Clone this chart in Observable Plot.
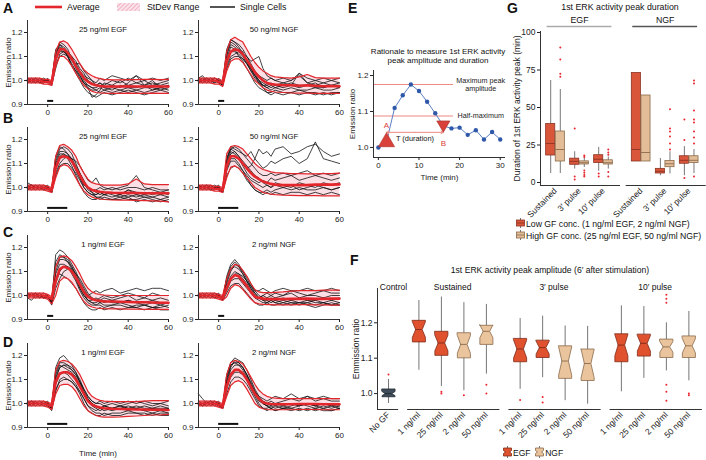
<!DOCTYPE html>
<html><head><meta charset="utf-8">
<script src="https://cdn.jsdelivr.net/npm/d3@7"></script>
<script src="https://cdn.jsdelivr.net/npm/@observablehq/plot@0.6"></script>
<style>
body{margin:0;background:#fff;}
#fig{position:relative;width:706px;height:460px;overflow:hidden;font-family:"Liberation Sans",Arial,sans-serif;color:#111;background:#fff;}
.abs{position:absolute;}
.lbl{position:absolute;font-weight:bold;font-size:14px;line-height:1;}
.t{position:absolute;white-space:nowrap;line-height:1;}
</style></head><body><div id="fig"></div>
<script>
// ---------------- DATA: time courses (A-D) ----------------
const T = [-10,-8,-6,-4,-2,0,2,4,6,8,10,12,14,16,18,20,22,24,26,28,32,36,40,44,48,52,56,60];
const TITLES = ["25 ng/ml EGF","50 ng/ml NGF","25 ng/ml EGF","50 ng/ml NGF","1 ng/ml EGF","2 ng/ml NGF","1 ng/ml EGF","2 ng/ml NGF"];
const PULSE = [3,3,10,10,3,3,10,10];

const A_EGF_avg=[1.00,1.00,1.00,1.00,0.995,0.995,0.99,1.09,1.13,1.13,1.115,1.09,1.06,1.035,1.01,0.995,0.985,0.98,0.977,0.975,0.975,0.975,0.976,0.975,0.975,0.976,0.975,0.975];
const A_EGF_hi=[1.01,1.01,1.01,1.01,1.005,1.005,1.00,1.12,1.16,1.165,1.155,1.13,1.10,1.07,1.045,1.03,1.02,1.012,1.008,1.005,1.003,1.003,1.004,1.004,1.005,1.005,1.004,1.005];
const A_EGF_lo=[0.99,0.99,0.99,0.99,0.985,0.985,0.98,1.06,1.10,1.10,1.085,1.06,1.03,1.005,0.98,0.965,0.955,0.95,0.948,0.947,0.946,0.946,0.947,0.946,0.946,0.947,0.946,0.946];
const A_EGF_cells=[
[1.00,1.01,1.00,0.99,1.00,1.00,0.99,1.10,1.15,1.14,1.12,1.10,1.06,1.03,1.00,0.98,0.97,0.96,0.95,0.96,0.95,0.96,0.95,0.96,0.95,0.96,0.97,0.96],
[0.99,1.00,1.01,1.00,0.99,1.00,0.98,1.05,1.11,1.12,1.11,1.10,1.08,1.05,1.03,1.00,0.99,0.98,0.99,0.98,1.00,0.99,1.01,0.99,1.00,0.98,0.99,1.00],
[1.01,1.00,0.99,1.01,1.00,0.99,0.99,1.12,1.14,1.13,1.10,1.06,1.03,1.00,0.97,0.95,0.94,0.93,0.94,0.95,0.94,0.95,0.96,0.95,0.94,0.95,0.96,0.95],
[1.00,0.99,1.00,1.00,1.01,1.00,0.99,1.07,1.10,1.11,1.10,1.09,1.07,1.07,1.04,1.02,1.00,0.98,0.99,0.97,0.98,1.00,0.98,0.99,0.98,1.00,0.97,0.98],
[1.00,1.00,1.01,0.99,1.00,1.00,0.99,1.13,1.15,1.13,1.10,1.06,1.04,1.01,0.99,0.98,0.97,0.97,0.98,0.97,0.96,0.98,0.97,0.97,0.98,0.96,0.97,0.98],
[0.99,1.00,1.00,1.00,0.99,1.01,0.98,1.09,1.12,1.12,1.11,1.08,1.07,1.04,1.02,1.01,1.00,0.99,1.01,1.00,1.02,1.01,1.00,1.02,1.00,1.01,1.00,1.01],
[1.00,1.00,0.99,1.00,1.00,1.00,0.99,1.11,1.16,1.15,1.13,1.09,1.05,1.02,0.99,0.97,0.96,0.96,0.97,0.96,0.97,0.96,0.97,0.96,0.97,0.97,0.96,0.97],
[1.01,1.00,1.00,1.00,0.99,1.00,0.99,1.08,1.13,1.12,1.10,1.07,1.04,1.02,0.99,0.97,0.93,0.94,0.96,0.99,0.98,0.97,0.99,1.02,0.98,0.99,0.98,0.99]];

const A_NGF_avg=[1.00,1.00,1.00,1.00,1.00,0.995,0.99,1.08,1.12,1.13,1.125,1.11,1.085,1.06,1.035,1.015,1.00,0.99,0.985,0.983,0.98,0.98,0.978,0.98,0.978,0.976,0.977,0.976];
const A_NGF_hi=[1.01,1.01,1.01,1.01,1.01,1.005,1.00,1.12,1.17,1.18,1.17,1.16,1.13,1.10,1.075,1.055,1.04,1.03,1.02,1.015,1.012,1.01,1.015,1.025,1.012,1.01,1.01,1.01];
const A_NGF_lo=[0.99,0.99,0.99,0.99,0.985,0.985,0.975,1.04,1.08,1.09,1.09,1.075,1.05,1.025,1.00,0.985,0.97,0.96,0.955,0.952,0.95,0.948,0.947,0.947,0.946,0.946,0.946,0.946];
const A_NGF_cells=[
[1.00,1.01,1.00,1.00,0.99,1.00,0.98,1.12,1.16,1.15,1.13,1.12,1.08,1.05,1.03,1.00,0.99,0.98,0.97,0.98,0.97,0.98,0.97,0.98,0.97,0.97,0.98,0.97],
[1.01,1.02,1.00,0.99,1.00,1.00,0.99,1.06,1.10,1.11,1.12,1.11,1.10,1.08,1.09,1.10,1.05,1.02,1.01,1.00,0.99,1.00,1.02,0.99,1.00,0.99,1.00,0.99],
[0.99,1.00,1.00,1.01,1.00,0.99,0.98,1.09,1.14,1.13,1.10,1.08,1.05,1.02,0.99,0.97,0.96,0.95,0.95,0.96,0.95,0.95,0.96,0.95,0.95,0.94,0.95,0.95],
[1.00,1.00,1.01,1.00,1.00,1.00,0.99,1.10,1.17,1.16,1.15,1.13,1.10,1.07,1.04,1.02,1.01,1.00,1.01,1.00,1.01,1.00,1.03,1.01,1.00,1.01,1.00,1.01],
[1.00,0.99,1.00,1.00,1.01,1.00,0.98,1.05,1.09,1.10,1.10,1.09,1.07,1.04,1.01,0.99,0.98,0.97,0.96,0.97,0.96,0.97,0.96,0.96,0.97,0.96,0.96,0.97],
[1.01,1.00,0.99,1.00,0.99,1.01,0.99,1.11,1.15,1.14,1.12,1.10,1.07,1.04,1.02,1.00,0.98,0.97,0.98,0.97,0.98,0.99,0.98,0.98,0.99,0.97,0.98,0.98],
[1.00,1.00,1.01,1.00,1.00,0.99,0.99,1.13,1.17,1.16,1.14,1.11,1.08,1.05,1.02,0.99,0.98,0.98,0.99,0.98,0.99,0.98,1.03,0.99,0.98,0.99,0.98,0.99],
[0.99,1.00,1.00,1.00,1.01,1.00,0.98,1.07,1.12,1.12,1.11,1.09,1.07,1.05,1.02,1.00,0.97,0.95,0.94,0.95,0.94,0.95,0.94,0.95,0.94,0.95,0.94,0.95]];

const B_EGF_avg=[1.00,1.00,1.00,1.00,1.00,0.995,0.99,1.08,1.125,1.13,1.125,1.11,1.08,1.05,1.02,1.00,0.99,0.985,0.982,0.98,0.978,0.977,0.978,0.977,0.976,0.976,0.976,0.976];
const B_EGF_hi=[1.01,1.01,1.01,1.01,1.01,1.005,1.00,1.13,1.175,1.18,1.17,1.155,1.13,1.09,1.06,1.035,1.02,1.015,1.012,1.01,1.01,1.01,1.015,1.035,1.015,1.012,1.012,1.012];
const B_EGF_lo=[0.99,0.99,0.99,0.99,0.99,0.985,0.98,1.04,1.085,1.095,1.09,1.07,1.04,1.01,0.985,0.97,0.96,0.955,0.952,0.95,0.948,0.947,0.947,0.946,0.945,0.944,0.943,0.94];
const B_EGF_cells=[
[1.00,1.01,1.00,1.00,0.99,1.00,0.99,1.12,1.16,1.17,1.16,1.14,1.10,1.06,1.03,1.00,0.99,0.98,0.97,0.98,0.97,0.96,0.97,0.96,0.97,0.96,0.97,0.96],
[1.01,1.00,1.00,0.99,1.00,1.00,0.98,1.06,1.10,1.12,1.13,1.12,1.11,1.09,1.06,1.03,1.02,1.04,1.01,1.00,0.99,1.00,1.01,1.05,1.00,0.99,0.98,0.99],
[0.99,1.00,1.01,1.00,1.00,0.99,0.99,1.10,1.14,1.14,1.12,1.09,1.05,1.01,0.98,0.96,0.95,0.95,0.96,0.95,0.95,0.96,0.95,0.95,0.96,0.95,0.94,0.95],
[1.00,1.00,0.99,1.00,1.01,1.00,0.98,1.08,1.12,1.13,1.13,1.12,1.09,1.06,1.02,0.99,0.98,0.97,0.98,0.97,0.98,0.97,0.99,0.98,0.97,0.98,0.97,0.98],
[1.02,1.01,1.00,1.00,0.99,1.00,0.99,1.13,1.17,1.16,1.14,1.11,1.07,1.04,1.01,1.00,0.99,0.99,1.00,0.99,1.00,0.99,1.00,1.00,0.99,1.00,0.99,0.99],
[1.00,0.99,1.00,1.00,1.00,1.01,0.98,1.05,1.09,1.10,1.10,1.08,1.06,1.03,1.00,0.98,0.97,0.96,0.96,0.97,0.96,0.97,0.96,0.97,0.96,0.96,0.95,0.96],
[1.00,1.01,1.00,1.00,1.00,1.00,0.99,1.11,1.15,1.15,1.14,1.12,1.08,1.04,1.00,0.98,0.97,0.97,0.98,0.97,0.98,0.97,0.99,0.97,0.98,0.97,0.98,0.97],
[0.99,1.00,1.00,1.01,1.00,1.00,0.98,1.09,1.13,1.14,1.13,1.11,1.08,1.05,1.02,1.00,0.98,0.96,0.95,0.96,0.95,0.95,0.96,0.94,0.95,0.94,0.95,0.94]];

const B_NGF_avg=[1.00,1.00,1.00,1.00,0.995,0.995,0.99,1.09,1.13,1.13,1.12,1.10,1.08,1.06,1.045,1.035,1.025,1.02,1.015,1.012,1.01,1.01,1.01,1.01,1.012,1.012,1.012,1.013];
const B_NGF_hi=[1.01,1.01,1.01,1.01,1.005,1.005,1.00,1.14,1.17,1.175,1.17,1.16,1.14,1.12,1.10,1.085,1.075,1.07,1.065,1.062,1.06,1.058,1.058,1.057,1.057,1.058,1.058,1.06];
const B_NGF_lo=[0.99,0.99,0.99,0.99,0.985,0.985,0.98,1.04,1.085,1.09,1.08,1.06,1.04,1.02,1.00,0.99,0.98,0.975,0.972,0.97,0.968,0.967,0.966,0.966,0.966,0.965,0.965,0.965];
const B_NGF_cells=[
[1.00,1.01,1.00,0.99,1.00,1.00,0.98,1.12,1.17,1.16,1.15,1.14,1.13,1.15,1.12,1.16,1.14,1.15,1.13,1.16,1.17,1.14,1.15,1.17,1.18,1.15,1.13,1.14],
[1.01,1.00,1.00,1.01,0.99,1.00,0.99,1.09,1.14,1.15,1.13,1.10,1.08,1.09,1.12,1.10,1.08,1.09,1.11,1.10,1.12,1.13,1.10,1.12,1.19,1.12,1.11,1.10],
[0.99,1.00,1.01,1.00,1.00,0.99,0.98,1.07,1.11,1.11,1.09,1.07,1.05,1.03,1.02,1.01,1.00,1.01,1.00,1.02,1.01,1.00,1.02,1.01,1.00,1.02,1.01,1.02],
[1.00,1.00,0.99,1.00,1.01,1.00,0.99,1.10,1.15,1.14,1.12,1.09,1.06,1.04,1.03,1.02,1.03,1.02,1.04,1.03,1.04,1.05,1.03,1.04,1.05,1.04,1.03,1.04],
[1.01,1.00,1.00,0.99,1.00,1.01,0.98,1.05,1.08,1.09,1.08,1.06,1.03,1.01,0.99,0.98,0.97,0.98,0.97,0.98,0.97,0.98,0.98,0.97,0.98,0.97,0.98,0.97],
[1.00,0.99,1.00,1.00,1.00,1.00,0.99,1.11,1.16,1.15,1.13,1.11,1.09,1.07,1.05,1.04,1.02,1.01,1.00,1.01,1.00,1.01,0.99,1.00,1.01,1.00,0.99,1.00],
[1.00,1.00,1.01,1.00,0.99,1.00,0.98,1.12,1.16,1.17,1.16,1.14,1.12,1.10,1.08,1.06,1.05,1.05,1.06,1.05,1.06,1.05,1.06,1.07,1.05,1.06,1.05,1.06],
[1.01,1.00,1.00,1.00,1.00,0.99,0.99,1.08,1.12,1.12,1.10,1.07,1.04,1.01,0.99,0.98,0.98,0.99,0.98,0.99,1.00,0.99,1.00,0.99,0.99,1.00,0.99,1.00]];

const C_EGF_avg=[1.00,1.00,1.00,1.00,1.00,0.995,0.985,1.06,1.11,1.12,1.115,1.10,1.075,1.045,1.015,0.995,0.985,0.98,0.978,0.975,0.975,0.974,0.973,0.972,0.972,0.971,0.97,0.97];
const C_EGF_hi=[1.01,1.01,1.01,1.01,1.01,1.005,0.995,1.12,1.16,1.165,1.16,1.145,1.12,1.09,1.055,1.03,1.015,1.008,1.004,1.002,1.00,1.00,1.00,1.00,1.00,1.00,1.00,1.00];
const C_EGF_lo=[0.99,0.99,0.99,0.99,0.99,0.985,0.965,1.00,1.06,1.075,1.07,1.055,1.03,1.00,0.975,0.96,0.952,0.948,0.946,0.945,0.944,0.944,0.943,0.943,0.942,0.942,0.942,0.942];
const C_EGF_cells=[
[1.00,1.01,1.00,1.00,0.99,1.00,0.97,1.17,1.19,1.18,1.16,1.13,1.10,1.06,1.03,1.00,0.99,0.98,0.99,1.00,0.99,1.00,1.01,1.00,0.99,1.01,1.00,1.00],
[0.99,1.00,1.01,0.99,1.00,0.99,0.98,1.05,1.10,1.12,1.12,1.11,1.09,1.07,1.04,1.01,0.99,0.98,0.97,0.98,0.97,0.97,0.98,0.97,0.96,0.97,0.96,0.97],
[1.01,1.00,1.00,1.01,0.99,1.00,0.97,1.07,1.09,1.08,1.07,1.05,1.03,1.00,0.97,0.95,0.94,0.94,0.95,0.94,0.95,0.94,0.95,0.95,0.94,0.95,0.94,0.94],
[1.00,1.00,0.99,1.00,1.01,1.00,0.98,1.14,1.17,1.16,1.14,1.12,1.09,1.05,1.02,1.00,1.01,1.02,1.01,1.02,1.03,1.01,1.02,1.03,1.02,1.03,1.03,1.02],
[0.99,0.98,1.00,1.00,0.99,1.00,0.96,1.03,1.07,1.10,1.11,1.10,1.07,1.03,1.00,0.98,0.97,0.96,0.96,0.95,0.96,0.96,0.95,0.96,0.96,0.95,0.96,0.95],
[1.00,1.00,1.01,1.00,1.00,0.99,0.98,1.10,1.15,1.15,1.14,1.11,1.07,1.03,1.00,0.98,0.98,0.99,0.98,0.99,0.98,0.99,1.00,0.98,0.99,0.98,0.99,0.98],
[1.00,1.00,1.00,0.99,1.00,1.00,0.97,1.12,1.16,1.16,1.15,1.12,1.08,1.04,1.01,0.98,0.97,0.97,0.98,0.97,0.98,0.97,0.98,0.97,0.97,0.98,0.97,0.97],
[1.01,1.00,1.00,1.00,0.99,1.00,0.98,1.09,1.13,1.13,1.12,1.09,1.06,1.02,0.99,0.97,0.96,0.96,0.97,0.96,0.96,0.97,0.96,0.95,0.96,0.95,0.95,0.96]];

const C_NGF_avg=[1.00,1.00,1.00,1.00,1.00,0.995,0.99,1.03,1.07,1.085,1.08,1.06,1.04,1.015,0.995,0.99,0.987,0.985,0.985,0.985,0.985,0.986,0.986,0.987,0.986,0.986,0.987,0.987];
const C_NGF_hi=[1.01,1.01,1.01,1.01,1.01,1.005,1.00,1.07,1.11,1.13,1.125,1.105,1.08,1.05,1.025,1.015,1.012,1.012,1.012,1.013,1.015,1.018,1.02,1.02,1.02,1.022,1.022,1.022];
const C_NGF_lo=[0.99,0.99,0.99,0.99,0.99,0.985,0.98,0.995,1.03,1.045,1.04,1.025,1.005,0.985,0.97,0.965,0.963,0.962,0.962,0.961,0.961,0.961,0.962,0.962,0.961,0.961,0.96,0.96];
const C_NGF_cells=[
[1.00,1.01,1.00,1.00,0.99,1.00,0.98,1.08,1.13,1.15,1.13,1.10,1.07,1.04,1.01,0.99,0.98,0.97,0.98,0.97,0.96,0.97,0.96,0.97,0.96,0.97,0.96,0.96],
[1.00,1.00,1.01,1.00,1.00,0.99,0.99,1.04,1.08,1.10,1.09,1.08,1.06,1.04,1.02,1.02,1.03,1.02,1.01,1.02,1.03,1.02,1.02,1.03,1.02,1.02,1.03,1.02],
[0.99,1.00,1.00,0.99,1.00,1.00,0.98,1.01,1.04,1.05,1.05,1.03,1.01,0.99,0.97,0.96,0.96,0.97,0.96,0.96,0.97,0.96,0.97,0.96,0.95,0.96,0.97,0.96],
[1.01,1.00,1.00,1.00,1.01,1.00,0.99,1.06,1.11,1.12,1.11,1.09,1.06,1.03,1.00,0.99,1.00,0.99,1.00,0.99,1.00,1.01,0.99,1.00,1.00,0.99,1.00,1.00],
[1.00,0.99,1.00,1.00,1.00,1.01,0.98,1.03,1.07,1.09,1.09,1.07,1.05,1.02,0.99,0.98,0.97,0.97,0.98,0.97,0.98,0.97,0.97,0.98,0.97,0.97,0.98,0.97],
[1.00,1.00,0.99,1.01,1.00,1.00,0.99,1.05,1.10,1.13,1.12,1.10,1.08,1.05,1.02,1.00,0.99,0.98,0.99,0.98,0.99,0.98,0.99,0.98,0.98,0.99,0.98,0.99],
[1.00,1.00,1.00,1.00,1.00,1.00,0.99,1.07,1.12,1.14,1.12,1.09,1.06,1.03,1.01,0.99,0.98,0.98,0.97,0.98,0.97,0.98,0.97,0.97,0.98,0.97,0.96,0.97],
[0.99,1.00,1.00,1.00,0.99,1.00,0.99,1.02,1.06,1.07,1.07,1.05,1.03,1.01,0.99,0.99,1.00,1.01,1.00,1.01,1.00,1.02,1.01,1.00,1.01,1.02,1.01,1.01]];

const D_EGF_avg=[1.00,1.00,1.00,1.00,1.00,0.995,0.99,1.09,1.125,1.13,1.13,1.12,1.10,1.07,1.04,1.01,0.995,0.988,0.983,0.98,0.978,0.977,0.976,0.975,0.975,0.974,0.974,0.973];
const D_EGF_hi=[1.01,1.01,1.01,1.01,1.01,1.005,1.00,1.14,1.175,1.18,1.175,1.165,1.145,1.12,1.085,1.05,1.03,1.02,1.013,1.01,1.008,1.008,1.008,1.008,1.01,1.012,1.012,1.012];
const D_EGF_lo=[0.99,0.99,0.99,0.99,0.99,0.985,0.975,1.04,1.075,1.08,1.08,1.07,1.05,1.02,0.99,0.97,0.958,0.95,0.945,0.943,0.943,0.944,0.946,0.948,0.95,0.952,0.953,0.955];
const D_EGF_cells=[
[1.00,1.01,1.00,1.00,0.99,1.00,0.98,1.15,1.19,1.20,1.18,1.16,1.13,1.09,1.05,1.02,1.00,0.99,0.98,0.99,0.98,0.99,0.98,0.99,0.98,0.98,0.99,0.98],
[1.00,1.00,1.01,0.99,1.00,1.00,0.98,1.10,1.15,1.16,1.16,1.15,1.13,1.10,1.06,1.03,1.01,1.00,1.00,0.99,1.00,0.99,1.00,1.01,1.00,0.99,1.00,0.99],
[0.99,1.00,1.00,1.01,1.00,0.99,0.97,1.05,1.10,1.11,1.10,1.09,1.07,1.04,1.00,0.97,0.96,0.95,0.95,0.96,0.95,0.95,0.96,0.96,0.95,0.96,0.95,0.95],
[1.01,1.00,1.00,1.00,1.01,1.00,0.99,1.12,1.16,1.15,1.14,1.13,1.11,1.08,1.04,1.01,0.99,0.98,0.97,0.98,0.97,0.98,0.97,0.98,0.97,0.96,0.97,0.96],
[1.00,0.99,1.00,1.00,1.00,1.01,0.98,1.08,1.12,1.13,1.12,1.10,1.08,1.05,1.02,0.99,0.98,0.97,0.98,0.97,0.98,0.98,0.99,0.98,0.97,0.98,0.97,0.98],
[1.00,1.00,0.99,1.00,1.00,1.00,0.99,1.13,1.17,1.17,1.16,1.14,1.12,1.09,1.06,1.03,1.01,1.00,1.01,1.00,1.01,1.00,1.01,1.00,1.01,1.00,1.00,1.01],
[1.00,1.01,1.00,1.00,1.00,0.99,0.98,1.11,1.15,1.16,1.15,1.14,1.12,1.09,1.05,1.02,1.00,0.99,0.98,0.99,0.98,0.99,0.98,0.98,0.99,0.98,0.98,0.98],
[0.99,1.00,1.00,1.00,1.00,1.00,0.98,1.06,1.09,1.10,1.10,1.09,1.07,1.05,1.02,0.99,0.97,0.96,0.96,0.95,0.96,0.96,0.97,0.96,0.96,0.95,0.96,0.96]];

const D_NGF_avg=[1.00,1.00,1.00,1.00,1.00,0.995,0.99,1.07,1.12,1.14,1.14,1.125,1.10,1.07,1.04,1.02,1.005,1.00,0.998,0.997,0.997,0.997,0.998,0.998,0.998,0.997,0.997,0.997];
const D_NGF_hi=[1.01,1.01,1.01,1.01,1.01,1.005,1.00,1.12,1.17,1.18,1.175,1.165,1.14,1.11,1.08,1.055,1.04,1.03,1.025,1.022,1.02,1.02,1.02,1.02,1.02,1.02,1.02,1.02];
const D_NGF_lo=[0.99,0.99,0.99,0.99,0.99,0.985,0.98,1.03,1.075,1.09,1.095,1.085,1.06,1.03,1.00,0.985,0.978,0.975,0.974,0.974,0.974,0.974,0.975,0.975,0.975,0.974,0.974,0.974];
const D_NGF_cells=[
[1.04,1.02,1.00,1.00,0.99,1.00,0.98,1.12,1.17,1.19,1.18,1.17,1.14,1.10,1.06,1.03,1.02,1.01,1.02,1.03,1.02,1.04,1.02,1.03,1.02,1.03,1.02,1.02],
[1.00,1.00,1.01,0.99,1.00,1.00,0.99,1.08,1.14,1.16,1.16,1.15,1.12,1.08,1.05,1.02,1.00,0.99,1.00,0.99,1.00,1.00,0.99,1.00,0.99,1.00,0.99,1.00],
[0.99,1.00,1.00,1.01,1.00,0.99,0.98,1.04,1.09,1.11,1.11,1.10,1.08,1.05,1.02,0.99,0.98,0.97,0.98,0.97,0.98,0.98,0.97,0.98,0.97,0.98,0.97,0.98],
[1.01,1.00,1.00,1.00,1.01,1.00,0.99,1.10,1.16,1.17,1.16,1.14,1.11,1.07,1.04,1.01,1.00,0.99,0.98,0.99,0.98,0.99,1.00,0.99,0.98,0.99,0.98,0.99],
[1.00,0.99,1.00,1.00,1.00,1.01,0.98,1.06,1.12,1.14,1.14,1.13,1.10,1.07,1.04,1.02,1.01,1.00,1.01,1.00,1.01,1.02,1.01,1.03,1.01,1.02,1.01,1.01],
[1.00,1.00,0.99,1.00,1.00,1.00,0.99,1.09,1.15,1.18,1.17,1.15,1.12,1.08,1.05,1.02,1.00,0.99,0.98,0.97,0.98,0.97,0.98,0.97,0.98,0.97,0.97,0.98],
[1.00,1.00,1.00,1.00,1.00,0.99,0.99,1.11,1.16,1.17,1.17,1.15,1.12,1.09,1.05,1.03,1.01,1.00,0.99,1.00,0.99,1.00,0.99,1.00,0.99,1.00,0.99,0.99],
[1.00,0.99,1.00,1.01,1.00,1.00,0.98,1.07,1.11,1.13,1.13,1.12,1.10,1.06,1.03,1.00,0.98,0.98,0.99,0.98,0.99,0.98,0.99,1.00,0.99,0.98,0.99,0.98]];

// ---------------- DATA: panel E ----------------
const E_T = [0,2,4,6,8,10,12,14,16,18,20,22,24,26,28,30];
const E_V = [1.0,1.015,1.11,1.145,1.175,1.157,1.127,1.095,1.06,1.053,1.055,1.035,1.048,1.022,1.043,1.022];
const E_MARK_NAMES = ["A","B"];
const E_MARK_IDX = [1,8];

// ---------------- DATA: panel G (duration, min) ----------------
const G_GF = ["EGF","NGF"];
const G_MODES = ["Sustained","3′ pulse","10′ pulse"];
const G_CONC = ["Low","High"];
// order: EGF(Sus L,H, 3' L,H, 10' L,H), NGF(same)
const G_Q1  = [18,14,11.8,12,13,12, 14,14,6,10.2,12.5,13];
const G_MED = [26,22,14.1,13.2,15.5,13.2, 22,20,7.5,12.5,14.8,14.8];
const G_Q3  = [39,34,15.9,14.1,18.2,14.8, 73,58,9.1,14.3,17.5,17.5];
const G_LO  = [6,6,9,10,7.5,9, 14,14,4.5,5.7,4.5,6];
const G_HI  = [68,62,20.5,16.5,23.4,17, 73,58,16,20.5,23.9,22];
const G_OUT = [[],[70.5,72.5,82,90],[36,4,2],[18,17,8,6.5,5,4],[4,6],[22,20,18.5,7,4],
               [],[],[],[48.9,36,34,30.7,26,22],[42,28.4,3],[68,66,48,42,40,34,30,26,4]];

// ---------------- DATA: panel F (amplitude) ----------------
const F_GROUPS = ["Control","Sustained","3′ pulse","10′ pulse"];
const F_GROUP_OF = [0,1,1,1,1,2,2,2,2,3,3,3,3];
const F_LABELS = ["No GF","1 ng/ml","25 ng/ml","2 ng/ml","50 ng/ml","1 ng/ml","25 ng/ml","2 ng/ml","50 ng/ml","1 ng/ml","25 ng/ml","2 ng/ml","50 ng/ml"];
const F_GF = ["None","EGF","EGF","NGF","NGF","EGF","EGF","NGF","NGF","EGF","EGF","NGF","NGF"];
const F_Q1  = [0.991,1.146,1.108,1.101,1.139,1.090,1.102,1.043,1.037,1.090,1.106,1.102,1.102];
const F_MED = [1.000,1.181,1.143,1.139,1.176,1.126,1.130,1.092,1.085,1.137,1.142,1.132,1.135];
const F_Q3  = [1.013,1.207,1.176,1.172,1.193,1.156,1.151,1.135,1.126,1.169,1.168,1.154,1.163];
const F_LO  = [0.972,1.066,1.020,1.008,1.055,1.012,1.045,0.980,0.970,1.005,1.043,1.064,1.036];
const F_HI  = [1.040,1.263,1.273,1.257,1.252,1.212,1.219,1.191,1.190,1.248,1.246,1.200,1.232];
const F_NOTCH=[0.006,0.022,0.022,0.025,0.018,0.025,0.018,0.04,0.04,0.03,0.022,0.015,0.02];
const F_OUT = [[1.054],[],[1.005,1.0],[0.995],[1.025,1.0],[0.982],[0.99,0.975],[],[],[],[],[1.279,1.268,1.257,1.025,1.005,0.98],[1.0,0.995]];

// ---------------- helpers ----------------
const fig = document.getElementById("fig");
const FONT = "'Liberation Sans', Arial, sans-serif";
const RED = "#e3262b", AX = "#333";
const baseStyle = {fontFamily: FONT, fontSize: "8px", background: "transparent", overflow: "visible", color: "#222"};
function put(el, left, top, w){ const d=document.createElement("div"); d.className="abs"; d.style.left=left+"px"; d.style.top=top+"px"; if(w) d.style.width=w+"px"; d.appendChild(el); fig.appendChild(d); return d; }
function txt(s, x, y, size, align="left", extra=""){ const d=document.createElement("div"); d.className="t"; d.textContent=s; d.style.fontSize=size+"px"; d.style.left=x+"px"; d.style.top=y+"px";
  d.style.transform = align==="center" ? "translate(-50%,-50%)" : "translate(0,-50%)"; if(extra) d.style.cssText += extra; fig.appendChild(d); return d; }
function letter(s,x,y){ const d=document.createElement("div"); d.className="lbl"; d.textContent=s; d.style.left=x+"px"; d.style.top=y+"px"; fig.appendChild(d); }

// ---------------- A-D time courses ----------------
const PANELS = [
  {avg:A_EGF_avg,hi:A_EGF_hi,lo:A_EGF_lo,cells:A_EGF_cells},{avg:A_NGF_avg,hi:A_NGF_hi,lo:A_NGF_lo,cells:A_NGF_cells},
  {avg:B_EGF_avg,hi:B_EGF_hi,lo:B_EGF_lo,cells:B_EGF_cells},{avg:B_NGF_avg,hi:B_NGF_hi,lo:B_NGF_lo,cells:B_NGF_cells},
  {avg:C_EGF_avg,hi:C_EGF_hi,lo:C_EGF_lo,cells:C_EGF_cells},{avg:C_NGF_avg,hi:C_NGF_hi,lo:C_NGF_lo,cells:C_NGF_cells},
  {avg:D_EGF_avg,hi:D_EGF_hi,lo:D_EGF_lo,cells:D_EGF_cells},{avg:D_NGF_avg,hi:D_NGF_hi,lo:D_NGF_lo,cells:D_NGF_cells}];
const ROW_TOP = [14,121,229,337], COL_LEFT = [0,171];

function tc(i){
  const P = PANELS[i], col = i%2, row = Math.floor(i/2);
  const showY = col===0, showX = (row===3 && col===0);
  const band = T.map((t,j)=>({t, avg:P.avg[j], hi:P.hi[j], lo:P.lo[j]}));
  const cells = P.cells.flatMap((c,k)=>c.map((v,j)=>({t:T[j], v, k})));
  const mb = showX ? 32 : 18;
  return Plot.plot({
    width:172, height:6+84+mb, marginLeft:27, marginRight:4, marginTop:6, marginBottom:mb,
    style: baseStyle,
    x:{domain:[-10,60]}, y:{domain:[0.9,1.25]},
    marks:[
      Plot.areaY(band,{x:"t",y1:"lo",y2:"hi",fill:"#f6b9c6",fillOpacity:0.45}),
      Plot.line(cells,{x:"t",y:"v",z:"k",stroke:"#111",strokeWidth:0.8}),
      Plot.line(band,{x:"t",y:"hi",stroke:RED,strokeWidth:1.2}),
      Plot.line(band,{x:"t",y:"lo",stroke:RED,strokeWidth:1.2}),
      Plot.line(band,{x:"t",y:"avg",stroke:RED,strokeWidth:2.6}),
      Plot.ruleY([0.915],{x1:0,x2:PULSE[i],stroke:"#111",strokeWidth:2}),
      Plot.ruleX([-10],{y1:0.9,y2:1.25,stroke:AX}),
      Plot.ruleY([0.9],{x1:-10,x2:60,stroke:AX}),
      Plot.axisY({ticks:[0.9,1.0,1.1,1.2], tickFormat:d=>d.toFixed(1), tickSize:3, tickPadding:2,
        label: showY ? "Emission ratio" : null, labelAnchor:"center", labelOffset:22, labelArrow:"none", fontSize:8}),
      Plot.axisX({ticks:[0,20,40,60], tickSize:3, tickPadding:2,
        label: showX ? "Time (min)" : null, labelAnchor:"center", labelOffset:28, labelArrow:"none", fontSize:8}),
      Plot.text([TITLES[i]],{frameAnchor:"top", dy:6, dx:5, fontSize:7.8, fill:"#111"})
    ]
  });
}
for (let i=0;i<8;i++){ put(tc(i), COL_LEFT[i%2], ROW_TOP[Math.floor(i/2)], 172); }

// legend for A-D
(function(){
  const d = document.createElement("div");
  d.innerHTML = `<svg width="300" height="14" style="position:absolute;left:30px;top:0">
   <defs><pattern id="hatch" width="3" height="3" patternUnits="userSpaceOnUse" patternTransform="rotate(45)">
     <rect width="3" height="3" fill="#fbe3ea"/><line x1="0" y1="0" x2="0" y2="3" stroke="#ec8fab" stroke-width="1.2"/></pattern></defs>
   <line x1="5" y1="7" x2="32" y2="7" stroke="${RED}" stroke-width="2.6"/>
   <rect x="87" y="3" width="23" height="8" fill="url(#hatch)"/>
   <line x1="180" y1="7" x2="205" y2="7" stroke="#555" stroke-width="2"/></svg>`;
  fig.appendChild(d);
  txt("Average",67,7,8.8); txt("StDev Range",147,7,8.8); txt("Single Cells",240,7,8.8);
})();
letter("A",3,1); letter("B",3,111); letter("C",3,225); letter("D",3,335);

// ---------------- E ----------------
(function(){
  const pts = E_T.map((t,i)=>({t, v:E_V[i]}));
  const eMax = d3.max(E_V), eHalf = (eMax + E_V[0]) / 2;
  const mk = E_MARK_IDX.map((i,k)=>({name:E_MARK_NAMES[k], t:E_T[i], v:E_V[i], k}));
  const triDown = {draw(ctx, size){ const s=Math.sqrt(size)*0.62; ctx.moveTo(-s,-s*0.75); ctx.lineTo(s,-s*0.75); ctx.lineTo(0,s*0.95); ctx.closePath(); }};
  const tA = mk[0].t, tB = mk[1].t, tMid = (tA+tB)/2, yArr = 1.042;
  const p = Plot.plot({
    width:180, height:123, marginLeft:43, marginRight:5, marginTop:6, marginBottom:30,
    style: baseStyle,
    x:{domain:[-1.2,31.3]}, y:{domain:[0.972,1.214]},
    marks:[
      Plot.ruleY([eMax],{x1:-1.2,x2:18.5,stroke:"#ee8a82",strokeWidth:1.2}),
      Plot.ruleY([eHalf],{x1:-1.2,x2:18.5,stroke:"#ee8a82",strokeWidth:1.2}),
      Plot.line(pts,{x:"t",y:"v",stroke:"#5a7fc4",strokeWidth:1}),
      Plot.dot(pts,{x:"t",y:"v",r:2.2,fill:"#2f58a8"}),
      Plot.arrow([{a:tMid,b:tA},{a:tMid,b:tB}],{x1:"a",x2:"b",y1:yArr,y2:yArr,stroke:"#ee8a82",strokeWidth:1,headLength:4}),
      Plot.dot([mk[0]],{x:"t",y:"v",symbol:"triangle",r:6,fill:"#d9423a",stroke:"#a52a22",strokeWidth:0.6}),
      Plot.dot([mk[1]],{x:"t",y:"v",symbol:triDown,r:6,fill:"#d9423a",stroke:"#a52a22",strokeWidth:0.6}),
      Plot.text([mk[0]],{x:"t",y:"v",text:"name",dy:-17,fill:"#d9423a",fontSize:8}),
      Plot.text([mk[1]],{x:"t",y:"v",text:"name",dy:18,fill:"#d9423a",fontSize:8}),
      Plot.text(["T (duration)"],{x:tMid,y:yArr,dy:6,fontSize:7.4,fill:"#111"}),
      Plot.text(["Maximum peak\namplitude"],{x:25.2,y:eMax,fontSize:7.2,fill:"#222",lineHeight:1.05}),
      Plot.text(["Half-maximum"],{x:25.2,y:eHalf,fontSize:7.2,fill:"#222"}),
      Plot.ruleX([-1.2],{y1:0.972,y2:1.214,stroke:AX}),
      Plot.ruleY([0.972],{x1:-1.2,x2:31.3,stroke:AX}),
      Plot.axisY({ticks:[1.0,1.1,1.2],tickFormat:d=>d.toFixed(1),tickSize:3,tickPadding:2,label:"Emission ratio",labelAnchor:"center",labelOffset:24,labelArrow:"none",fontSize:8}),
      Plot.axisX({ticks:[0,10,20,30],tickSize:3,tickPadding:2,label:"Time (min)",labelAnchor:"center",labelOffset:22,labelArrow:"none",fontSize:8})
    ]
  });
  put(p,330,64,180);
  txt("Rationale to measure 1st ERK activity",438,52,8,"center");
  txt("peak amplitude and duration",438,61,8,"center");
  letter("E",348,1);
})();

// ---------------- G ----------------
(function(){
  const boxes = [];
  const GOFF = 3.57;
  G_GF.forEach((gf,g)=>G_MODES.forEach((m,mi)=>G_CONC.forEach((c,ci)=>{
    const i = g*6 + mi*2 + ci;
    boxes.push({i, gf, m, c, pos: g*GOFF + mi + (ci ? 0.2 : -0.2), q1:G_Q1[i], med:G_MED[i], q3:G_Q3[i], lo:G_LO[i], hi:G_HI[i],
      fill: ci ? "#e2bd97" : "#d9563b", stroke: ci ? "#8c6b4c" : "#8c3322"});
  })));
  const hw = 0.19;
  const outs = boxes.flatMap(b=>G_OUT[b.i].map(v=>({pos:b.pos, v})));
  const cats = G_GF.flatMap((gf,g)=>G_MODES.map((m,mi)=>({pos:g*GOFF+mi, m})));
  const catMap = new Map(cats.map(c=>[c.pos,c.m]));
  const groups = G_GF.map((gf,g)=>({gf, c:g*GOFF+1, a:g*GOFF-0.625, b:g*GOFF+2.71, col: g? "#555":"#aaa"}));
  const p = Plot.plot({
    width:201, height:200, marginLeft:35, marginRight:1, marginTop:6, marginBottom:40,
    style: baseStyle,
    color:{type:"identity"},
    x:{domain:[-0.625,6.25]}, y:{domain:[-2,100.67]},
    marks:[
      Plot.ruleX(boxes,{x:"pos",y1:"lo",y2:"hi",stroke:"#555",strokeWidth:0.8}),
      Plot.rect(boxes,{x1:d=>d.pos-hw,x2:d=>d.pos+hw,y1:"q1",y2:"q3",fill:"fill",stroke:"stroke",strokeWidth:0.8}),
      Plot.ruleY(boxes,{x1:d=>d.pos-hw,x2:d=>d.pos+hw,y:"med",stroke:"stroke",strokeWidth:0.9}),
      Plot.dot(outs,{x:"pos",y:"v",r:1,fill:"#e8262e"}),
      Plot.ruleX([-0.625],{y1:-2,y2:100.67,stroke:AX}),
      Plot.ruleY(groups,{x1:"a",x2:"b",y:()=>-2,stroke:AX}),
      Plot.ruleY(groups,{x1:d=>d.c-1.35,x2:d=>d.c+1.35,y:()=>104,stroke:"col",strokeWidth:1.3}),
      Plot.text(groups,{x:"c",y:()=>108.5,text:"gf",fontSize:8.8,fill:"#111"}),
      Plot.axisY({ticks:[0,25,50,75,100],tickSize:3,tickPadding:2,label:"Duration of 1st ERK activity peak (min)",labelAnchor:"center",labelOffset:27,labelArrow:"none",fontSize:8.5}),
      Plot.axisX({ticks:cats.map(c=>c.pos),tickFormat:d=>catMap.get(d),tickRotate:-45,tickSize:0,tickPadding:4,label:null,fontSize:8.5})
    ]
  });
  put(p,505,25,201);
  txt("1st ERK activity peak duration",620,7,8.8,"center");
  letter("G",507,1);
  const icon = (f,s)=>`<svg width="9" height="10" style="vertical-align:-1px;margin-right:1px"><line x1="4.5" y1="0" x2="4.5" y2="10" stroke="#555" stroke-width="0.8"/><rect x="0.5" y="2" width="8" height="6" fill="${f}" stroke="${s}" stroke-width="0.8"/><line x1="0.5" y1="5" x2="8.5" y2="5" stroke="${s}" stroke-width="0.8"/></svg>`;
  const l1 = document.createElement("div"); l1.className="t"; l1.style.cssText+="left:516px;top:218px;font-size:8.7px;";
  l1.innerHTML = icon("#d9563b","#8c3322")+"Low GF conc. (1 ng/ml EGF, 2 ng/ml NGF)"; fig.appendChild(l1);
  const l2 = document.createElement("div"); l2.className="t"; l2.style.cssText+="left:516px;top:230px;font-size:8.7px;";
  l2.innerHTML = icon("#e2bd97","#8c6b4c")+"High GF conc. (25 ng/ml EGF, 50 ng/ml NGF)"; fig.appendChild(l2);
})();

// ---------------- F ----------------
(function(){
  const boxes = F_LABELS.map((lab,i)=>{
    const g = F_GROUP_OF[i];
    const pos = i + (g ? 0.35 + 0.5*(g-1) : 0);
    const gf = F_GF[i];
    return {i, g, lab, gf, pos, q1:F_Q1[i], med:F_MED[i], q3:F_Q3[i], lo:F_LO[i], hi:F_HI[i], n:F_NOTCH[i],
      fill: gf==="EGF" ? "#e0512e" : gf==="NGF" ? "#e9c49c" : "#3f4d5a",
      stroke: gf==="EGF" ? "#7f2b18" : gf==="NGF" ? "#8a6a4b" : "#222a31"};
  });
  const hw = 0.29;
  const poly = boxes.flatMap(b=>{
    const c=b.pos;
    return [[c-hw,b.q3],[c+hw,b.q3],[c+hw,b.med+b.n],[c+hw*0.5,b.med],[c+hw,b.med-b.n],[c+hw,b.q1],
            [c-hw,b.q1],[c-hw,b.med-b.n],[c-hw*0.5,b.med],[c-hw,b.med+b.n]].map(([x,y])=>({x,y,id:b.i,fill:b.fill,stroke:b.stroke}));
  });
  const outs = boxes.flatMap(b=>F_OUT[b.i].map(v=>({pos:b.pos,v})));
  const groups = F_GROUPS.map((name,g)=>{
    const ps = boxes.filter(b=>b.g===g).map(b=>b.pos);
    const a = g ? d3.min(ps)-0.5 : -0.49, bb = g ? d3.max(ps)+0.6 : 0.45;
    return {name, a, b:bb, c: g ? (d3.min(ps)+d3.max(ps))/2 : 0.22};
  });
  const labMap = new Map(boxes.map(b=>[b.pos,b.lab]));
  const p = Plot.plot({
    width:376, height:187, marginLeft:47, marginRight:3, marginTop:26, marginBottom:40,
    style: baseStyle,
    color:{type:"identity"},
    x:{domain:[-0.49,14.0]}, y:{domain:[0.955,1.297]},
    marks:[
      Plot.ruleX(boxes,{x:"pos",y1:"lo",y2:"hi",stroke:"#666",strokeWidth:0.9}),
      Plot.line(poly,{x:"x",y:"y",z:"id",fill:"fill",stroke:"stroke",strokeWidth:0.8,curve:"linear-closed"}),
      Plot.ruleY(boxes,{x1:d=>d.pos-hw*0.5,x2:d=>d.pos+hw*0.5,y:"med",stroke:"stroke",strokeWidth:0.9}),
      Plot.dot(outs,{x:"pos",y:"v",r:1,fill:"#e8262e"}),
      Plot.ruleX([-0.49],{y1:0.955,y2:1.297,stroke:AX}),
      Plot.ruleY(groups,{x1:"a",x2:"b",y:()=>0.955,stroke:AX}),
      Plot.text(groups,{x:"c",text:"name",frameAnchor:"top",dy:-5,fontSize:8.5,fill:"#111"}),
      Plot.axisY({ticks:[1.0,1.1,1.2],tickFormat:d=>d.toFixed(1),tickSize:3,tickPadding:2,label:"Emmission ratio",labelAnchor:"center",labelOffset:25,labelArrow:"none",fontSize:8.5}),
      Plot.axisX({ticks:boxes.map(b=>b.pos),tickFormat:d=>labMap.get(d),tickRotate:-45,tickSize:0,tickPadding:4,label:null,fontSize:8.5})
    ]
  });
  put(p,330,262,376);
  txt("1st ERK activity peak amplitude (6′ after stimulation)",550,270,8.6,"center");
  letter("F",350,253);
  const icon = (f,s)=>`<svg width="9" height="12" style="vertical-align:-2px;margin-right:1px"><line x1="4.5" y1="0" x2="4.5" y2="12" stroke="#555" stroke-width="0.8"/><path d="M0.5,2H8.5V4.5L6.5,6L8.5,7.5V10H0.5V7.5L2.5,6L0.5,4.5Z" fill="${f}" stroke="${s}" stroke-width="0.8"/></svg>`;
  const l = document.createElement("div"); l.className="t"; l.style.cssText+="left:503px;top:446px;font-size:8.5px;";
  l.innerHTML = icon("#e0512e","#7f2b18")+"EGF&nbsp;&nbsp;"+icon("#e9c49c","#8a6a4b")+"NGF"; fig.appendChild(l);
})();
</script></body></html>
